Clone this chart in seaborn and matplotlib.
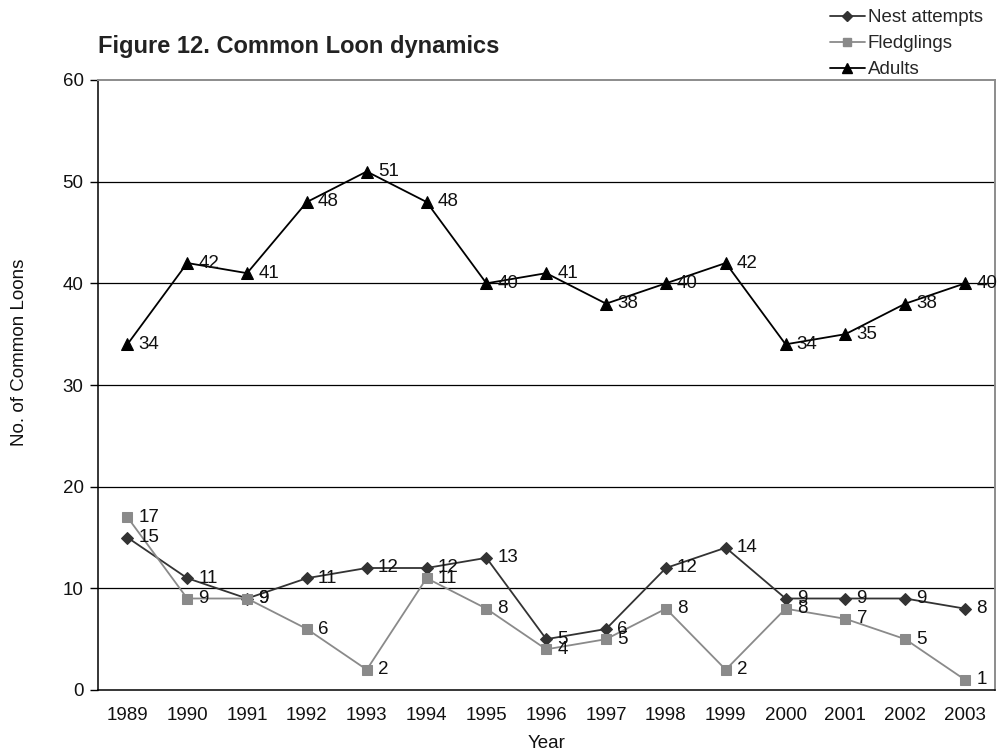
import matplotlib
matplotlib.use("Agg")
import matplotlib.pyplot as plt
import seaborn as sns
import pandas as pd
from matplotlib.lines import Line2D

years = ["1989", "1990", "1991", "1992", "1993", "1994", "1995", "1996",
         "1997", "1998", "1999", "2000", "2001", "2002", "2003"]
nest_attempts = [15, 11, 9, 11, 12, 12, 13, 5, 6, 12, 14, 9, 9, 9, 8]
fledglings = [17, 9, 9, 6, 2, 11, 8, 4, 5, 8, 2, 8, 7, 5, 1]
adults = [34, 42, 41, 48, 51, 48, 40, 41, 38, 40, 42, 34, 35, 38, 40]

series_names = ["Nest attempts", "Fledglings", "Adults"]
series_values = [nest_attempts, fledglings, adults]
colors = {"Nest attempts": "#333333", "Fledglings": "#8a8a8a", "Adults": "#000000"}
markers = {"Nest attempts": "D", "Fledglings": "s", "Adults": "^"}
msizes = {"Nest attempts": 6, "Fledglings": 7, "Adults": 8.5}

sns.set_theme(style="white")
plt.rcParams["font.family"] = ["Liberation Sans", "DejaVu Sans"]

df = pd.concat([
    pd.DataFrame({"pos": range(len(years)), "year": years, "value": vals, "series": name})
    for name, vals in zip(series_names, series_values)
], ignore_index=True)

W, H = 997, 753
L, R, T, B = 97.5, 995, 80, 690
fig = plt.figure(figsize=(W / 100, H / 100), dpi=100)
ax = fig.add_axes([L / W, 1 - B / H, (R - L) / W, (B - T) / H])

# horizontal gridlines
for yv in range(10, 60, 10):
    ax.axhline(yv, color="#000000", lw=0.9, zorder=0)

FS = 13.5
for name in series_names:
    sub = df[df["series"] == name]
    sns.lineplot(data=sub, x="pos", y="value", ax=ax, color=colors[name],
                 marker=markers[name], markersize=msizes[name],
                 markeredgecolor=colors[name], markerfacecolor=colors[name],
                 lw=1.3, sort=False, legend=False, zorder=3)
    for x, v in zip(sub["pos"], sub["value"]):
        ax.annotate(str(v), (x, v), xytext=(8, 0), textcoords="offset points",
                    va="center", ha="left", fontsize=FS, color="#111111", zorder=4)

ax.set_xlim(-0.5, len(years) - 0.5)
ax.set_ylim(0, 60)
ax.set_yticks(range(0, 61, 10))
ax.set_yticklabels([str(v) for v in range(0, 61, 10)], fontsize=FS, color="#111111")
ax.set_xticks(range(len(years)))
ax.set_xticklabels(years, fontsize=FS, color="#111111")
ax.set_xticks([i - 0.5 for i in range(len(years) + 1)], minor=True)
ax.tick_params(axis="x", which="major", length=0, pad=12)
ax.tick_params(axis="x", which="minor", length=6, width=1, color="#000000", direction="out")
ax.tick_params(axis="y", length=6, width=1, color="#000000", direction="out", left=True, pad=4)

for side in ["left", "bottom"]:
    ax.spines[side].set_color("#000000")
    ax.spines[side].set_linewidth(1.1)
for side in ["top", "right"]:
    ax.spines[side].set_color("#8c8c8c")
    ax.spines[side].set_linewidth(1.4)

ax.set_xlabel("Year", fontsize=FS, color="#111111")
ax.set_ylabel("No. of Common Loons", fontsize=FS, color="#111111")
ax.xaxis.set_label_coords(0.5, -(735 - B) / (B - T), transform=ax.transAxes)
ax.yaxis.set_label_coords(-(L - 28) / (R - L), (B - 352) / (B - T), transform=ax.transAxes)

fig.text(L / W, 1 - 47 / H, "Figure 12. Common Loon dynamics", fontsize=17,
         fontweight="bold", color="#222222", ha="left", va="center")

handles = [Line2D([0], [0], color=colors[n], marker=markers[n], markersize=msizes[n] * 0.85,
                  lw=1.3) for n in series_names]
fig.legend(handles, series_names, loc="upper right", bbox_to_anchor=(0.997, 1.003),
           frameon=False, fontsize=FS, handlelength=1.87, handletextpad=0.16,
           labelspacing=0.48, borderaxespad=0.2)

fig.savefig("out.png", dpi=100)
